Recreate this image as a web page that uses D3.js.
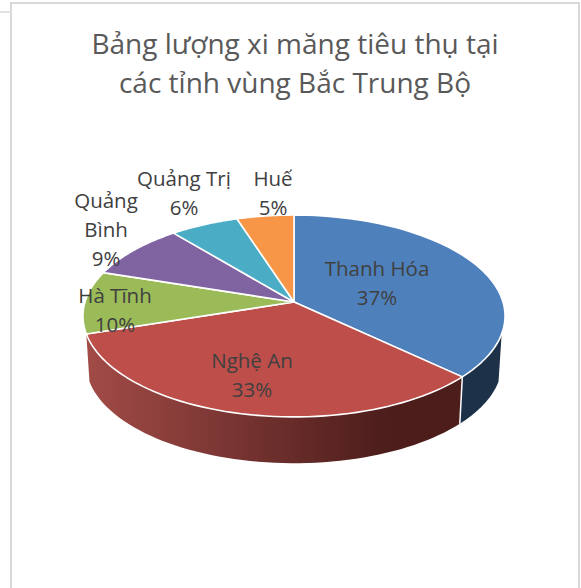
<!DOCTYPE html>
<html>
<head>
<meta charset="utf-8">
<script src="https://cdnjs.cloudflare.com/ajax/libs/d3/7.8.5/d3.min.js"></script>
<style>
html,body{margin:0;padding:0;background:#fff}
svg{display:block}
text{font-family:"Open Sans","Noto Sans",sans-serif}
</style>
</head>
<body>
<svg id="chart" width="581" height="588"></svg>
<script>
const titleLines = ["Bảng lượng xi măng tiêu thụ tại", "các tỉnh vùng Bắc Trung Bộ"];
const categories = ["Thanh Hóa", "Nghệ An", "Hà Tĩnh", "Quảng Bình", "Quảng Trị", "Huế"];
const shares = [37, 33, 10, 9, 6, 5];
const topColors = ["#4e80bb", "#bd4e4a", "#9bbb59", "#8064a2", "#4bacc6", "#f79646"];
const wallColors = [["#1d3249", "#1d3249"], ["#4c1d1b", "#a24b47"]];
const labelLines = [["Thanh Hóa"], ["Nghệ An"], ["Hà Tĩnh"], ["Quảng", "Bình"], ["Quảng Trị"], ["Huế"]];
const labelSpots = [[377, 276], [252, 368], [115, 303], [106, 208], [184, 186], [273, 186]];

const W = 581, H = 588;
const svg = d3.select("#chart");
const defs = svg.append("defs");

// Chart frame
const frame = svg.append("g").attr("fill", "none").attr("stroke", "#d9d9d9").attr("stroke-width", 2);
frame.append("path").attr("d", d3.line()([[11, H], [11, 3], [579, 3], [579, H]]));
frame.append("path").attr("d", d3.line()([[0, 12], [11, 12]])).attr("stroke-width", 1.5);

// Title
svg.append("g").selectAll("text").data(titleLines).join("text")
  .attr("x", 295).attr("y", (d, i) => 54 + i * 38.5)
  .attr("text-anchor", "middle").attr("font-size", 28).attr("fill", "#595959")
  .text(d => d);

// Tilted disc: a perspective projection of the unit circle
const cx = 294, cy = 302, A = 209, B = 99, persp = 0.1386, depth = 48;
const project = (a, drop = 0, k = 1) => {
  const u = Math.sin(a), v = -Math.cos(a), w = 1 - persp * v;
  return [cx + k * A * u / w, cy + drop + k * B * v / w];
};

const arcs = d3.pie().sort(null).value(d => d)(shares);
const samples = (a0, a1, drop, k) => d3.range(0, 61).map(i => project(a0 + (a1 - a0) * i / 60, drop, k));
const line = d3.line();

// Outer wall below the rim, only along the two front slices
const wallEnd = arcs[1].endAngle;
const wallStart = 2 * Math.PI - wallEnd;
arcs.slice(0, 2).forEach((d, i) => {
  const a0 = Math.max(d.startAngle, wallStart), a1 = Math.min(d.endAngle, wallEnd);
  const grad = defs.append("linearGradient").attr("id", "wall" + i)
    .attr("gradientUnits", "userSpaceOnUse")
    .attr("x1", project(a0)[0]).attr("x2", project(a1)[0]).attr("y1", 0).attr("y2", 0);
  grad.append("stop").attr("offset", 0).attr("stop-color", wallColors[i][0]);
  grad.append("stop").attr("offset", i === 1 ? 0.2 : 1).attr("stop-color", wallColors[i][0]);
  grad.append("stop").attr("offset", 1).attr("stop-color", wallColors[i][1]);
  const pts = samples(a0, a1, 0, 1).concat(samples(a1, a0, depth, 0.985));
  svg.append("path").attr("d", line(pts) + "Z").attr("fill", `url(#wall${i})`);
});

// White seam on the wall between the two front slices
const seam = arcs[0].endAngle;
svg.append("path").attr("d", line([project(seam), project(seam, depth, 0.985)]))
  .attr("stroke", "#fff").attr("stroke-width", 1.5);

// Slice tops
svg.append("g").selectAll("path").data(arcs).join("path")
  .attr("d", d => line([[cx, cy], ...samples(d.startAngle, d.endAngle, 0, 1)]) + "Z")
  .attr("fill", (d, i) => topColors[i])
  .attr("stroke", "#fff").attr("stroke-width", 1.6).attr("stroke-linejoin", "round");

// Data labels: name lines, then the share
const labels = svg.append("g").attr("fill", "#404040").attr("font-size", 20.5).attr("text-anchor", "middle");
categories.forEach((c, i) => {
  const [lx, ly] = labelSpots[i];
  [...labelLines[i], shares[i] + "%"].forEach((t, j) => {
    labels.append("text").attr("x", lx).attr("y", ly + j * 29).text(t);
  });
});
</script>
</body>
</html>
